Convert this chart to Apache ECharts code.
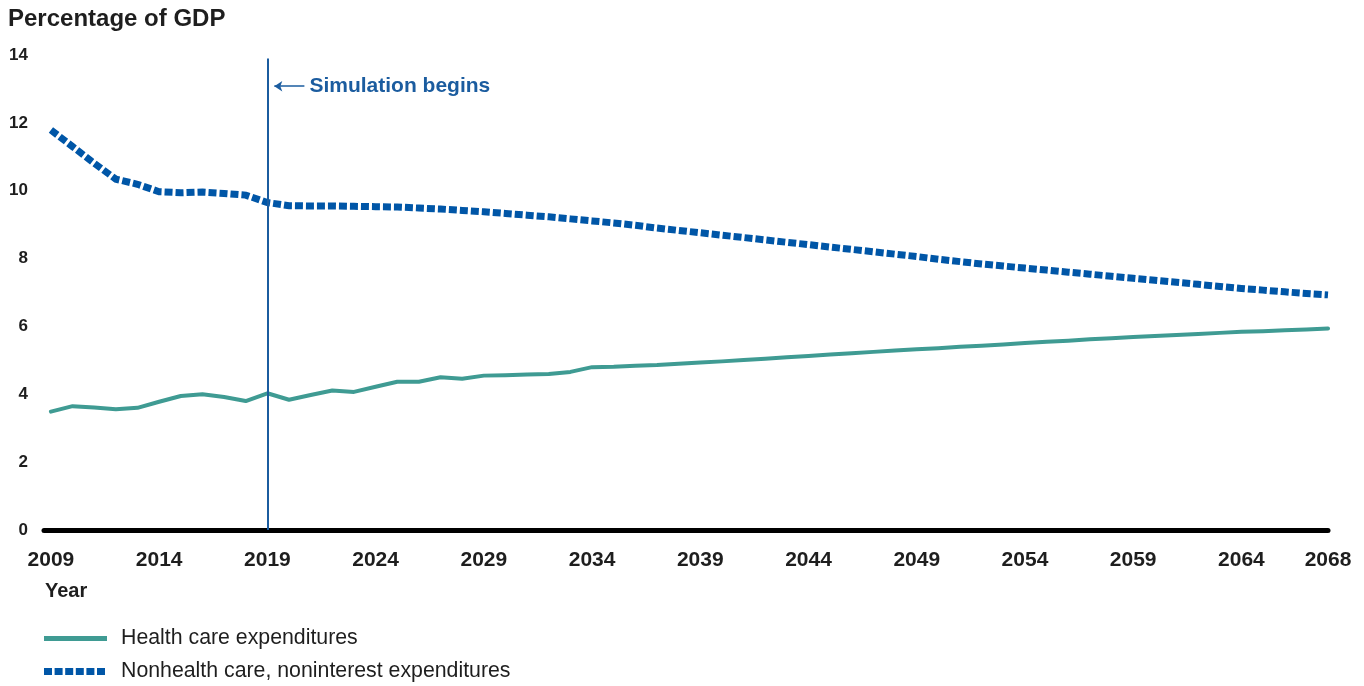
<!DOCTYPE html>
<html>
<head>
<meta charset="utf-8">
<script src="https://cdn.jsdelivr.net/npm/echarts@6/dist/echarts.min.js"></script>
<style>
  html, body { margin: 0; padding: 0; background: #fff; }
  #chart { width: 1364px; height: 686px; }
</style>
</head>
<body>
<div id="chart"></div>
<script>
// Federal spending outlook, share of GDP, 2009-2068
const firstYear = 2009;
const lastYear = 2068;
const simulationStart = 2019;

const years = [];
for (let y = firstYear; y <= lastYear; y++) years.push(y);

const yearTicks = [2009, 2014, 2019, 2024, 2029, 2034, 2039, 2044, 2049, 2054, 2059, 2064, 2068];
const valueTicks = [0, 2, 4, 6, 8, 10, 12, 14];

const healthCare = [
  3.49, 3.65, 3.61, 3.56, 3.60, 3.78, 3.95, 4.00, 3.92, 3.80,
  4.03, 3.84, 3.98, 4.11, 4.07, 4.22, 4.37, 4.37, 4.50, 4.46,
  4.55, 4.56, 4.58, 4.60, 4.66, 4.80, 4.81, 4.84, 4.86, 4.90,
  4.94, 4.97, 5.01, 5.05, 5.09, 5.13, 5.17, 5.21, 5.25, 5.29,
  5.33, 5.36, 5.40, 5.43, 5.47, 5.51, 5.55, 5.58, 5.62, 5.65,
  5.69, 5.72, 5.75, 5.78, 5.81, 5.84, 5.86, 5.89, 5.91, 5.94
];

const nonhealthNoninterest = [
  11.79, 11.30, 10.81, 10.34, 10.19, 9.97, 9.94, 9.96, 9.92, 9.87,
  9.65, 9.56, 9.55, 9.55, 9.54, 9.53, 9.52, 9.49, 9.46, 9.42,
  9.38, 9.33, 9.28, 9.23, 9.17, 9.11, 9.05, 8.98, 8.90, 8.83,
  8.76, 8.69, 8.62, 8.55, 8.48, 8.41, 8.34, 8.27, 8.20, 8.13,
  8.06, 7.98, 7.91, 7.84, 7.78, 7.72, 7.66, 7.60, 7.54, 7.48,
  7.42, 7.36, 7.30, 7.24, 7.18, 7.12, 7.07, 7.02, 6.97, 6.93
];

const FONT = '"Liberation Sans", Arial, Helvetica, sans-serif';
const GREEN = '#3f9b93';
const BLUE = '#0056a7';
const MARK_BLUE = '#1b5c9f';
const INK = '#1e1e1e';

const HEALTH_NAME = 'Health care expenditures';
const OTHER_NAME = 'Nonhealth care, noninterest expenditures';

// Legend keys: a solid bar and a row of six square dashes
const solidKey = 'path://M0,0H63V5H0Z';
const dashedKey = 'path://M0,0h8v7h-8z M10.6,0h8v7h-8z M21.2,0h8v7h-8z M31.8,0h8v7h-8z M42.4,0h8v7h-8z M53,0h8v7h-8z';

const pairs = vals => years.map((y, i) => [y, vals[i]]);

const legendBase = {
  orient: 'vertical',
  left: 44,
  padding: 0,
  selectedMode: false
};

const chart = echarts.init(document.getElementById('chart'), null, { renderer: 'canvas' });

chart.setOption({
  animation: false,
  backgroundColor: '#fff',
  textStyle: { fontFamily: FONT },
  title: [
    {
      text: 'Percentage of GDP',
      left: 8, top: 7, padding: 0,
      textStyle: { fontFamily: FONT, fontSize: 24, fontWeight: 'bold', color: INK }
    },
    {
      text: 'Year',
      left: 45, top: 581, padding: 0,
      textStyle: { fontFamily: FONT, fontSize: 20, fontWeight: 'bold', color: INK }
    }
  ],
  grid: { left: 44, right: 36, top: 55, bottom: 156, containLabel: false },
  xAxis: {
    type: 'value',
    min: 2008.68,
    max: lastYear,
    splitLine: { show: false },
    axisTick: { show: false },
    axisLine: { show: true, onZero: true, lineStyle: { color: '#000', width: 5 } },
    axisLabel: {
      customValues: yearTicks,
      formatter: v => String(v),
      margin: 20,
      fontFamily: FONT, fontSize: 21, fontWeight: 'bold', color: INK,
      showMinLabel: true, showMaxLabel: true
    }
  },
  yAxis: {
    type: 'value',
    min: valueTicks[0],
    max: valueTicks[valueTicks.length - 1],
    interval: 2,
    splitLine: { show: false },
    axisTick: { show: false },
    axisLine: { show: false },
    axisLabel: {
      margin: 16,
      align: 'right',
      fontFamily: FONT, fontSize: 17, fontWeight: 'bold', color: INK
    }
  },
  legend: [
    Object.assign({}, legendBase, {
      top: 628,
      itemWidth: 63, itemHeight: 5,
      icon: solidKey,
      textStyle: { fontFamily: FONT, fontSize: 21.3, color: INK, padding: [0, 0, 0, 9] },
      data: [HEALTH_NAME]
    }),
    Object.assign({}, legendBase, {
      top: 661,
      itemWidth: 61, itemHeight: 7,
      icon: dashedKey,
      textStyle: { fontFamily: FONT, fontSize: 21.3, color: INK, padding: [0, 0, 0, 11] },
      data: [OTHER_NAME]
    })
  ],
  series: [
    {
      name: HEALTH_NAME,
      type: 'line',
      data: pairs(healthCare),
      symbol: 'none',
      lineStyle: { color: GREEN, width: 4, cap: 'round', join: 'round' },
      itemStyle: { color: GREEN },
      z: 3,
      markLine: {
        silent: true,
        symbol: ['none', 'none'],
        animation: false,
        data: [
          [
            { coord: [simulationStart, 0], lineStyle: { color: MARK_BLUE, width: 2, type: 'solid' }, label: { show: false } },
            { coord: [simulationStart, 13.9] }
          ],
          [
            {
              coord: [simulationStart + 0.32, 13.08],
              symbol: 'arrow', symbolSize: [8, 8],
              lineStyle: { color: MARK_BLUE, width: 1.5, type: 'solid' },
              label: {
                show: true, position: 'end', distance: 5,
                formatter: 'Simulation begins',
                fontFamily: FONT, fontSize: 21, fontWeight: 'bold', color: MARK_BLUE
              }
            },
            { coord: [simulationStart + 1.71, 13.08], symbol: 'none' }
          ]
        ]
      }
    },
    {
      name: OTHER_NAME,
      type: 'line',
      data: pairs(nonhealthNoninterest),
      symbol: 'none',
      lineStyle: { color: BLUE, width: 7, type: [8, 3], cap: 'butt', join: 'miter' },
      itemStyle: { color: BLUE },
      z: 2
    }
  ]
});
</script>
</body>
</html>
